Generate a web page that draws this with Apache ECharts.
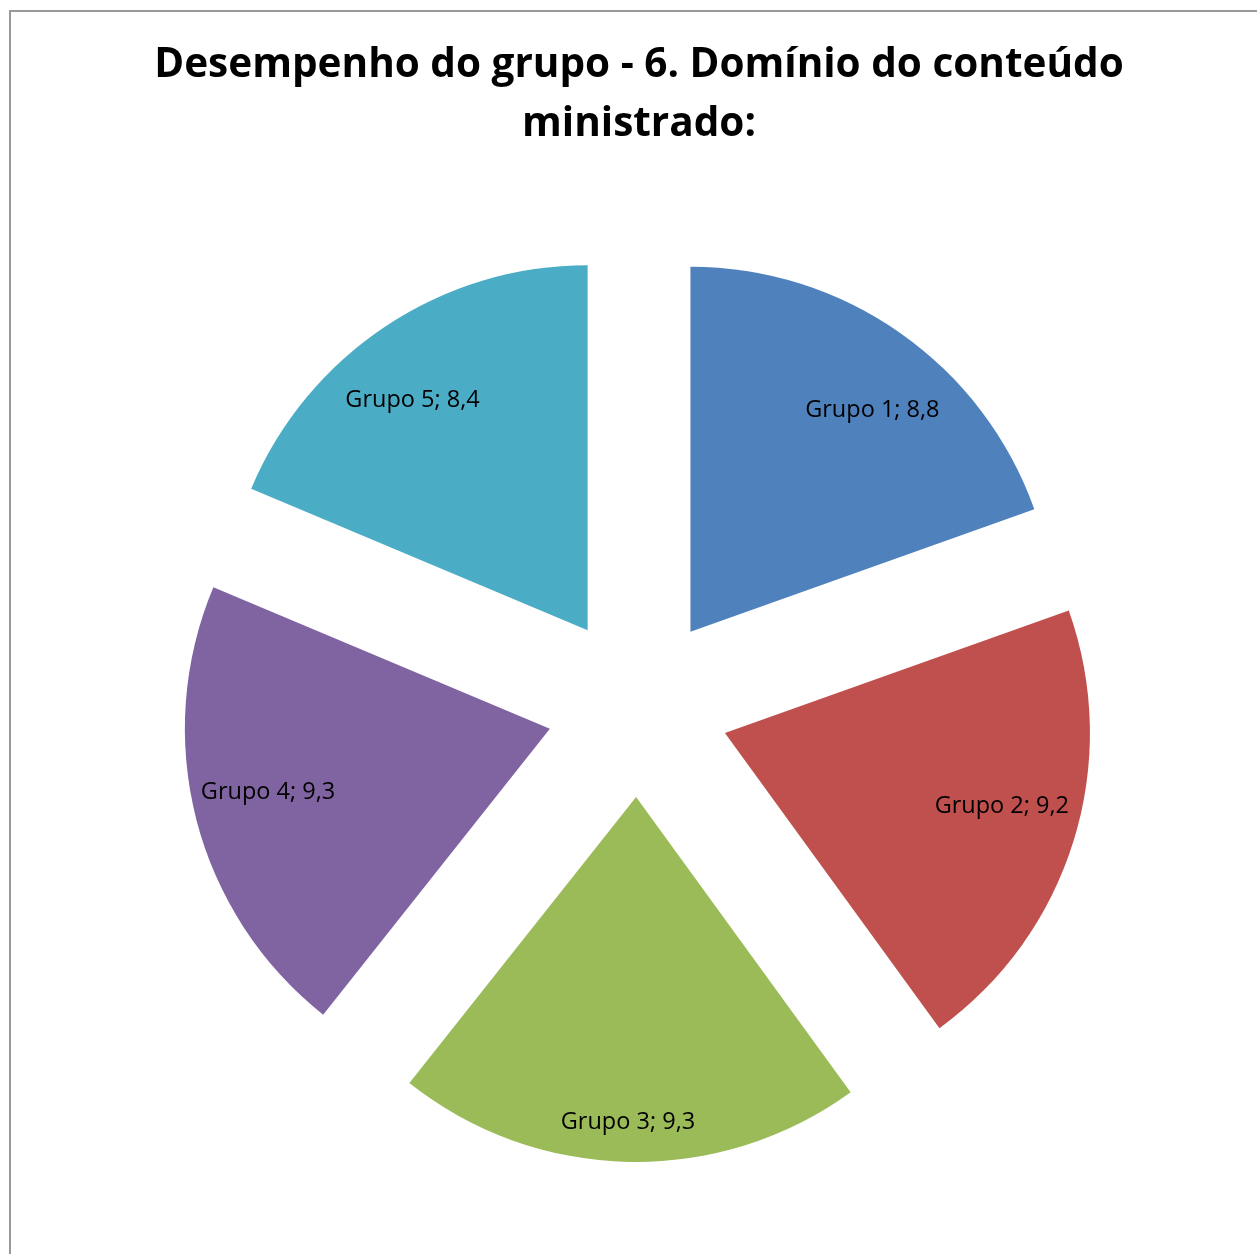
<!DOCTYPE html>
<html>
<head>
<meta charset="utf-8">
<script src="https://cdn.jsdelivr.net/npm/echarts@6/dist/echarts.min.js"></script>
<style>
html,body{margin:0;padding:0;background:#fff;}
#frame{position:absolute;left:9px;top:10px;width:1400px;height:1400px;border-left:2px solid #999;border-top:2px solid #999;}
#chart{position:absolute;left:0;top:0;width:1257px;height:1254px;}
</style>
</head>
<body>
<div id="frame"></div>
<div id="chart"></div>
<script>
const titleText = 'Desempenho do grupo - 6. Domínio do conteúdo\nministrado:';
const categories = ['Grupo 1', 'Grupo 2', 'Grupo 3', 'Grupo 4', 'Grupo 5'];
const values = [8.8, 9.2, 9.3, 9.3, 8.4];
const colors = ['#4F81BD', '#C0504D', '#9BBB59', '#8064A2', '#4BACC6'];
// small label nudges (style only) to mimic the original "best fit" placement
const labelNudge = [[13, 18], [-3, -13], [-2, 32], [2, -9], [-13, 14]];

const fmt = v => v.toFixed(1).replace('.', ',');
const sliceData = categories.map((c, i) => ({
  name: c, value: values[i], selected: true,
  itemStyle: { color: colors[i] },
  select: { itemStyle: { color: colors[i] } }
}));
const labelData = categories.map((c, i) => ({
  name: c, value: values[i], selected: true
}));

const chart = echarts.init(document.getElementById('chart'), null, { renderer: 'canvas' });
chart.setOption({
  animation: false,
  title: {
    text: titleText,
    left: 634, top: 31, textAlign: 'center',
    textStyle: { fontFamily: 'Open Sans', fontWeight: 'bold', fontSize: 40.5, lineHeight: 59, color: '#000' }
  },
  series: [
    {
      type: 'pie',
      center: [638, 706],
      radius: [0, 365],
      startAngle: 90,
      clockwise: true,
      selectedMode: 'multiple',
      selectedOffset: 91,
      silent: true,
      label: { show: false },
      labelLine: { show: false },
      emphasis: { disabled: true },
      data: sliceData
    },
    {
      type: 'pie',
      center: [638, 706],
      radius: [215, 365],
      startAngle: 90,
      clockwise: true,
      selectedMode: 'multiple',
      selectedOffset: 91,
      silent: true,
      itemStyle: { color: 'rgba(0,0,0,0)' },
      select: { itemStyle: { color: 'rgba(0,0,0,0)', borderWidth: 0 } },
      emphasis: { disabled: true },
      labelLine: { show: false },
      label: {
        show: true, position: 'inside',
        fontFamily: 'Open Sans', fontSize: 23.5, color: '#000',
        formatter: p => p.name + '; ' + fmt(p.value)
      },
      labelLayout: p => ({ dx: labelNudge[p.dataIndex][0], dy: labelNudge[p.dataIndex][1] }),
      data: labelData
    }
  ]
});
</script>
</body>
</html>
